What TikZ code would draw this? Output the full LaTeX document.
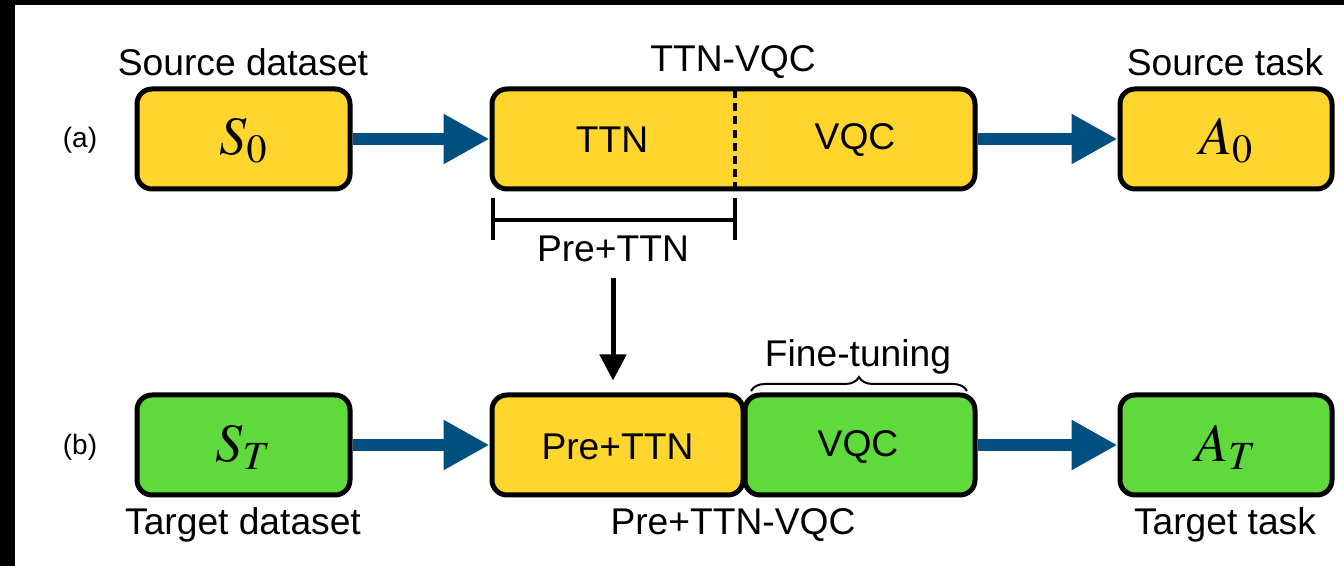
\documentclass[tikz,border=0pt]{standalone}
\usepackage{mathptmx}
\usepackage[no-math]{fontspec}
\setmainfont{Liberation Sans}
\usetikzlibrary{arrows.meta,decorations.pathreplacing,calc}
\definecolor{boxyellow}{HTML}{FFD52E}
\definecolor{boxgreen}{HTML}{5FD93B}
\definecolor{flowblue}{HTML}{00507F}
\tikzset{
  block/.style={draw=black, line width=2.5pt, rounded corners=7.5pt,
    minimum height=50pt, inner sep=0pt},
  ybox/.style={block, fill=boxyellow},
  gbox/.style={block, fill=boxgreen},
  txt/.style={font=\fontsize{18.6}{22}\selectfont, inner sep=0pt},
  mth/.style={font=\fontsize{27}{30}\selectfont, inner sep=0pt},
  rowlbl/.style={font=\fontsize{14}{16}\selectfont, inner sep=0pt},
  flow/.style={draw=flowblue, line width=6pt,
    -{Triangle[length=23pt,width=23.5pt]}},
  transfer/.style={draw=black, line width=2.5pt,
    -{Triangle[length=13pt,width=13pt]}},
}
\begin{document}
\begin{tikzpicture}[x=0.5pt,y=-0.5pt]
\useasboundingbox (0,0) rectangle (1344,566);
\fill[white] (0,0) rectangle (1344,566);
% frame edges
\fill[black] (0,0) rectangle (1344,5);
\fill[black] (0,0) rectangle (15,566);

% row (a)
\node[rowlbl] (la) at (80,140) {(a)};
\node[ybox, minimum width=106.5pt] (s0) at (243.5,139) {};
\node[mth] (s0t) at (243.5,141) {$S_0$};
\node[ybox, minimum width=241.5pt] (tv) at (733.5,139) {};
\node[txt] (ttn) at (612,140) {TTN};
\node[txt] (vqc) at (855,140) {VQC};
\coordinate (dtop) at (735,90);
\coordinate (dbot) at (735,187);
\draw[line width=1.6pt, dash pattern=on 4pt off 2.6pt] (dtop) -- (dbot);
\node[ybox, minimum width=106pt] (a0) at (1226,139) {};
\node[mth] (a0t) at (1226,141) {$A_0$};

\node[txt] (srcds) at (243,62) {Source dataset};
\node[txt] (tvl) at (733,62) {TTN-VQC};
\node[txt] (srctask) at (1225,62) {Source task};

\draw[flow] (s0) -- (tv);
\draw[flow] (tv) -- (a0);

% bracket marking the pre-trained part
\coordinate (bl) at (493,220);
\coordinate (br) at (735,220);
\draw[line width=1.6pt] (bl) -- (br);
\draw[line width=1.6pt] ($(bl)+(0,-22)$) -- ($(bl)+(0,20)$);
\draw[line width=1.6pt] ($(br)+(0,-22)$) -- ($(br)+(0,20)$);
\node[txt] (prel) at (613,249) {Pre+TTN};

% row (b)
\node[rowlbl] (lb) at (80,447) {(b)};
\node[gbox, minimum width=106.5pt] (st) at (243.5,445) {};
\node[mth] (stt) at (243.5,447) {$S_T$};
\node[ybox, minimum width=125.5pt] (pre) at (617.5,445) {};
\node[txt] (pret) at (617.5,447) {Pre+TTN};
\node[gbox, minimum width=115pt] (vq) at (860,445) {};
\node[txt] (vqt) at (858,447) {VQC};
\node[gbox, minimum width=106pt] (at) at (1226,445) {};
\node[mth] (att) at (1226,447) {$A_T$};

\node[txt] (tgtds) at (243,525) {Target dataset};
\node[txt] (ptv) at (733,525) {Pre+TTN-VQC};
\node[txt] (tgttask) at (1225,525) {Target task};

\draw[flow] (st) -- (pre);
\draw[flow] (vq) -- (at);

% transfer of the pre-trained block
\draw[transfer, shorten <=8pt, shorten >=6pt] (prel.south) -- (prel.south |- pre.north);

% fine-tuning brace
\coordinate (fbl) at (751,391);
\coordinate (fbr) at (967,391);
\draw[line width=1pt, decorate, decoration={brace, amplitude=7pt}] (fbl) -- (fbr);
\node[txt] (ft) at (858,357) {Fine-tuning};
\end{tikzpicture}
\end{document}
